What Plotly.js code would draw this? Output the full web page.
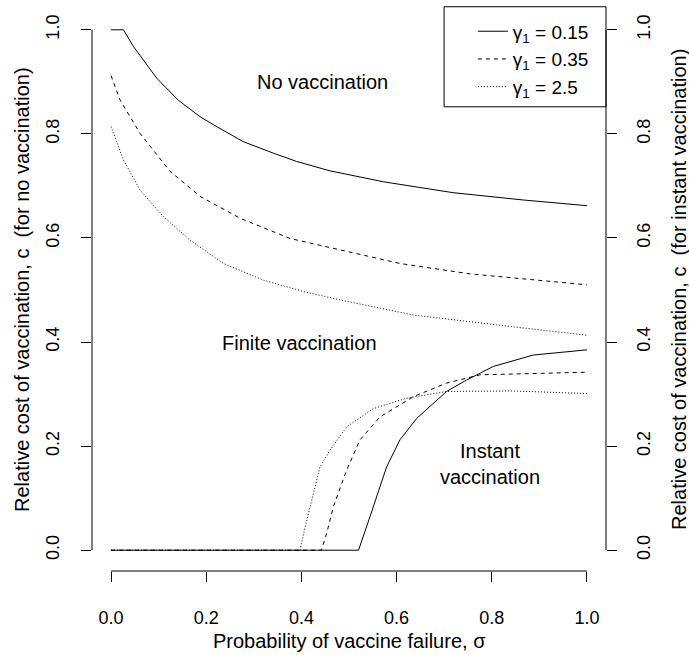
<!DOCTYPE html>
<html>
<head>
<meta charset="utf-8">
<script src="https://cdn.plot.ly/plotly-3.0.1.min.js"></script>
<style>html,body{margin:0;padding:0;background:#fff;}#chart{width:689px;height:655px;}</style>
</head>
<body>
<div id="chart"></div>
<script>
// Data
var sigma015Upper = [0, 0.026, 0.047, 0.078, 0.096, 0.141, 0.187, 0.222, 0.278, 0.341, 0.39, 0.46, 0.572, 0.719, 0.866, 1.0];
var c015Upper     = [1.0, 1.0, 0.968, 0.929, 0.907, 0.865, 0.833, 0.814, 0.785, 0.763, 0.747, 0.729, 0.708, 0.687, 0.673, 0.662];
var sigma015Lower = [0, 0.52, 0.544, 0.579, 0.607, 0.642, 0.705, 0.747, 0.803, 0.887, 1.0];
var c015Lower     = [0, 0, 0.064, 0.16, 0.212, 0.253, 0.305, 0.327, 0.353, 0.375, 0.385];

var sigma035Upper = [0, 0.019, 0.061, 0.124, 0.187, 0.271, 0.376, 0.481, 0.607, 0.754, 1.0];
var c035Upper     = [0.912, 0.865, 0.801, 0.728, 0.68, 0.638, 0.599, 0.577, 0.551, 0.531, 0.51];
var sigma035Lower = [0, 0.442, 0.453, 0.467, 0.495, 0.523, 0.565, 0.635, 0.705, 0.775, 1.0];
var c035Lower     = [0, 0, 0.032, 0.083, 0.154, 0.212, 0.256, 0.295, 0.321, 0.337, 0.342];

var sigma25Upper = [0, 0.026, 0.061, 0.11, 0.166, 0.236, 0.32, 0.404, 0.481, 0.635, 0.81, 1.0];
var c25Upper     = [0.814, 0.75, 0.692, 0.641, 0.596, 0.551, 0.519, 0.497, 0.481, 0.452, 0.433, 0.413];
var sigma25Lower = [0, 0.397, 0.408, 0.418, 0.429, 0.439, 0.46, 0.495, 0.551, 0.621, 0.705, 0.845, 1.0];
var c25Lower     = [0, 0, 0.045, 0.083, 0.125, 0.16, 0.192, 0.237, 0.272, 0.292, 0.305, 0.306, 0.301];

var seriesNames = ["γ<sub>1</sub> = 0.15", "γ<sub>1</sub> = 0.35", "γ<sub>1</sub> = 2.5"];
var tickVals = [0, 0.2, 0.4, 0.6, 0.8, 1.0];
var tickText = ["0.0", "0.2", "0.4", "0.6", "0.8", "1.0"];
var regionLabels = ["No vaccination", "Finite vaccination", "Instant<br>vaccination"];
var xTitle = "Probability of vaccine failure, σ";
var yTitleLeft = "Relative cost of vaccination, c  (for no vaccination)";
var yTitleRight = "Relative cost of vaccination, c  (for instant vaccination)";

var FONT = "Liberation Sans, Arial, sans-serif";

function joinSeg(a, b) { return a.concat([null]).concat(b); }

var dashes = ["solid", "4px,4px", "1px,2px"];
var sx = [joinSeg(sigma015Upper, sigma015Lower), joinSeg(sigma035Upper, sigma035Lower), joinSeg(sigma25Upper, sigma25Lower)];
var sy = [joinSeg(c015Upper, c015Lower), joinSeg(c035Upper, c035Lower), joinSeg(c25Upper, c25Lower)];

var traces = [];
for (var i = 0; i < 3; i++) {
  traces.push({
    x: sx[i], y: sy[i], type: "scatter", mode: "lines",
    name: seriesNames[i], legendgroup: "g" + i,
    line: {color: "#000", width: 1, dash: dashes[i]},
    connectgaps: false, hoverinfo: "skip"
  });
}
// invisible trace to enable the right axis
traces.push({x: [0.5], y: [0.5], yaxis: "y2", mode: "markers", marker: {opacity: 0}, showlegend: false, hoverinfo: "skip"});

var axisCommon = {
  range: [-0.04, 1.04], tickvals: tickVals, ticktext: tickText,
  showgrid: false, zeroline: false, showline: false,
  ticks: "outside", ticklen: 10, tickwidth: 1, tickcolor: "#000",
  tickfont: {family: FONT, size: 18, color: "#000"}
};

var layout = {
  width: 689, height: 655,
  margin: {l: 92, r: 83, t: 9, b: 84},
  paper_bgcolor: "#fff", plot_bgcolor: "#fff",
  font: {family: FONT, size: 20, color: "#000"},
  xaxis: Object.assign({}, axisCommon, {ticklabelstandoff: 20}),
  yaxis: Object.assign({}, axisCommon, {tickangle: -90, ticklabelstandoff: 15}),
  yaxis2: Object.assign({}, axisCommon, {overlaying: "y", side: "right", tickangle: -90, ticklabelstandoff: 11}),
  showlegend: true,
  legend: {
    x: 0.741, y: 0.994, xanchor: "left", yanchor: "top",
    bgcolor: "rgba(0,0,0,0)", borderwidth: 0,
    font: {family: FONT, size: 19, color: "#000"},
    tracegroupgap: 0, traceorder: "normal"
  },
  shapes: [
    {type: "line", xref: "x", yref: "paper", x0: 0, x1: 1, y0: 0, y1: 0, line: {color: "#000", width: 1}},
    {type: "line", xref: "paper", yref: "y", x0: 0, x1: 0, y0: 0, y1: 1, line: {color: "#000", width: 1}},
    {type: "line", xref: "paper", yref: "y", x0: 1, x1: 1, y0: 0, y1: 1, line: {color: "#000", width: 1}},
    {type: "rect", xref: "paper", yref: "paper", x0: 0.685, x1: 1.0, y0: 0.826, y1: 1.004, line: {color: "#000", width: 1}, fillcolor: "rgba(0,0,0,0)"}
  ],
  annotations: [
    {text: regionLabels[0], x: 0.445, y: 0.9, xref: "x", yref: "y", xanchor: "center", yanchor: "middle", showarrow: false, font: {size: 20}},
    {text: regionLabels[1], x: 0.395, y: 0.398, xref: "x", yref: "y", xanchor: "center", yanchor: "middle", showarrow: false, font: {size: 20}},
    {text: regionLabels[2], x: 0.796, y: 0.165, xref: "x", yref: "y", xanchor: "center", yanchor: "middle", showarrow: false, font: {size: 20}},
    {text: xTitle, x: 0.5, y: (570.8 - 641) / 561.6, xref: "paper", yref: "paper", xanchor: "center", yanchor: "middle", showarrow: false, font: {size: 20}},
    {text: yTitleLeft, textangle: -90, x: (22 - 92) / 514, y: 0.5, xref: "paper", yref: "paper", xanchor: "center", yanchor: "middle", showarrow: false, font: {size: 20}},
    {text: yTitleRight, textangle: -90, x: (679 - 92) / 514, y: 0.5, xref: "paper", yref: "paper", xanchor: "center", yanchor: "middle", showarrow: false, font: {size: 20}}
  ]
};

Plotly.newPlot("chart", traces, layout, {displayModeBar: false, staticPlot: true});
</script>
</body>
</html>
